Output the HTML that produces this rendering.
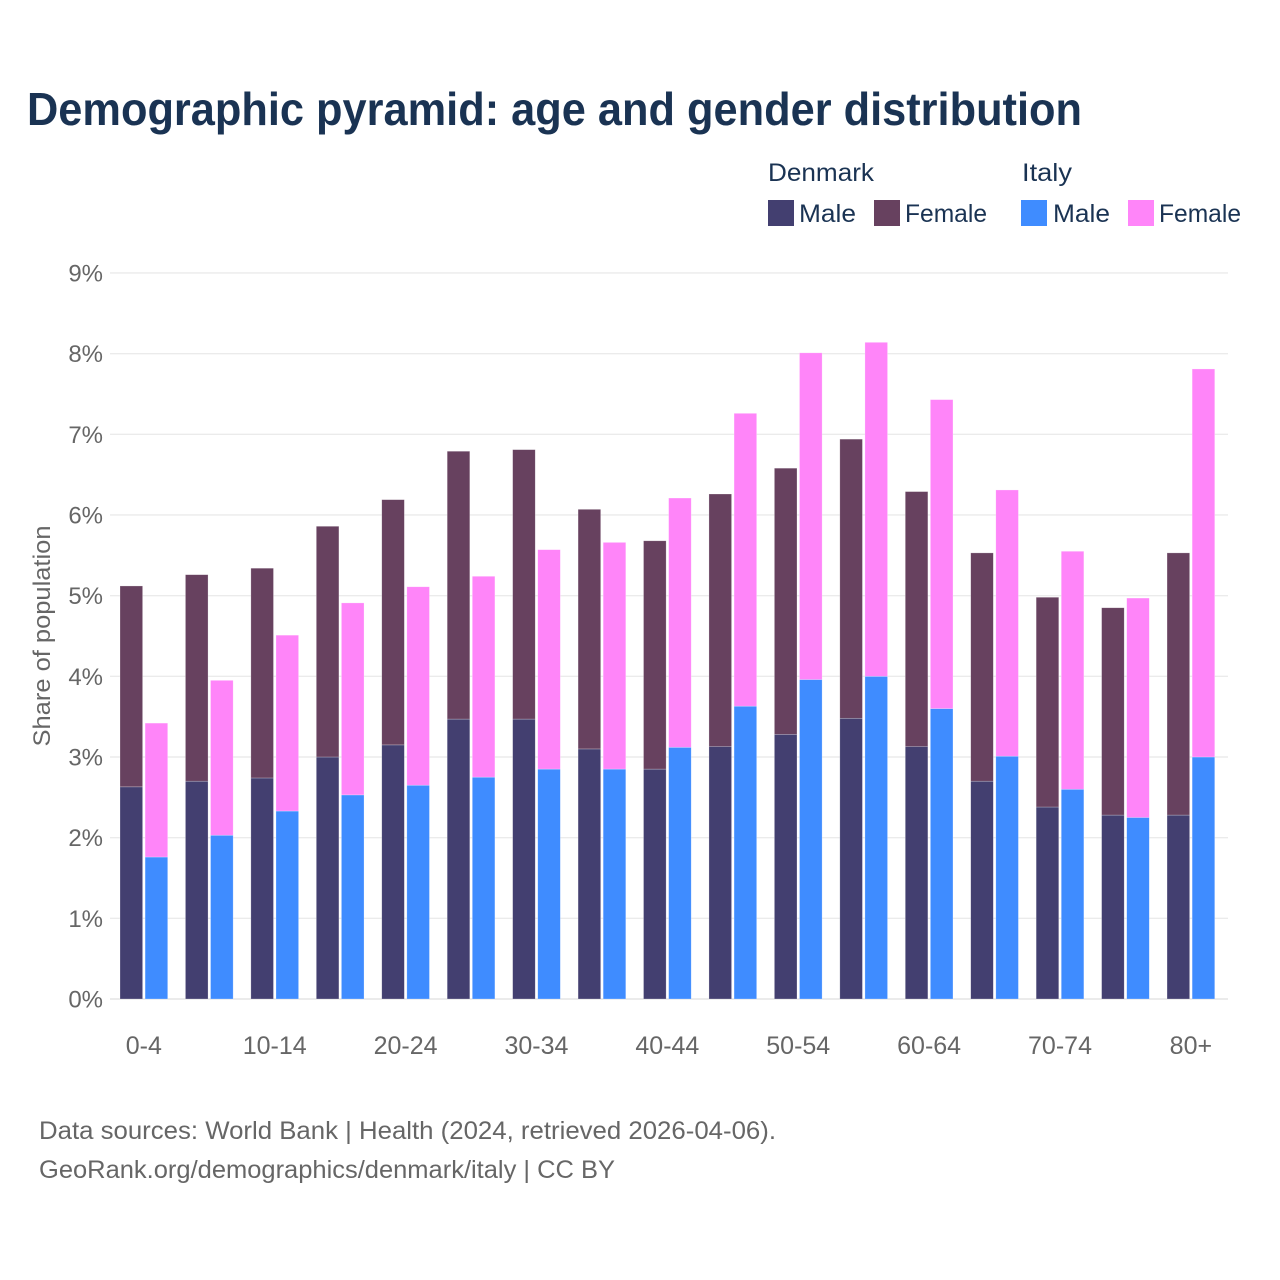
<!DOCTYPE html>
<html lang="en">
<head>
<meta charset="utf-8">
<title>Demographic pyramid</title>
<style>
html,body{margin:0;padding:0;background:#fff}
svg{display:block}
text{font-family:"Liberation Sans",Arial,sans-serif}
</style>
</head>
<body>
<svg id="chart" xmlns="http://www.w3.org/2000/svg" width="1280" height="1280" viewBox="0 0 1280 1280">
<rect x="0" y="0" width="1280" height="1280" fill="#fff"/>
<text x="27" y="125" font-size="46" font-weight="700" fill="#1a3353" textLength="1055" lengthAdjust="spacingAndGlyphs">Demographic pyramid: age and gender distribution</text>
<g font-size="25" fill="#1a3353">
<text x="768" y="181" textLength="106" lengthAdjust="spacingAndGlyphs">Denmark</text>
<text x="1022" y="181" textLength="50" lengthAdjust="spacingAndGlyphs">Italy</text>
<rect x="768" y="200" width="26" height="26" fill="#433f70"/>
<text x="799" y="222" textLength="57" lengthAdjust="spacingAndGlyphs">Male</text>
<rect x="874" y="200" width="26" height="26" fill="#67415f"/>
<text x="905" y="222" textLength="82" lengthAdjust="spacingAndGlyphs">Female</text>
<rect x="1021" y="200" width="26" height="26" fill="#3f8cff"/>
<text x="1053" y="222" textLength="57" lengthAdjust="spacingAndGlyphs">Male</text>
<rect x="1128" y="200" width="26" height="26" fill="#ff85f9"/>
<text x="1159" y="222" textLength="82" lengthAdjust="spacingAndGlyphs">Female</text>
</g>
<g id="grid"></g>
<g id="y-ticks"></g>
<g id="bars"></g>
<g id="x-ticks"></g>
<text transform="translate(50,636) rotate(-90)" text-anchor="middle" font-size="24" fill="#666" textLength="221" lengthAdjust="spacingAndGlyphs">Share of population</text>
<text x="39" y="1139" font-size="25" fill="#666" textLength="737" lengthAdjust="spacingAndGlyphs">Data sources: World Bank | Health (2024, retrieved 2026-04-06).</text>
<text x="39" y="1178" font-size="25" fill="#666" textLength="576" lengthAdjust="spacingAndGlyphs">GeoRank.org/demographics/denmark/italy | CC BY</text>
</svg>
<script>
const categories = ["0-4","5-9","10-14","15-19","20-24","25-29","30-34","35-39","40-44","45-49","50-54","55-59","60-64","65-69","70-74","75-79","80+"];
const denmarkMale = [2.63,2.70,2.74,3.00,3.15,3.47,3.47,3.10,2.85,3.13,3.28,3.48,3.13,2.70,2.38,2.28,2.28];
const denmarkFemale = [2.49,2.56,2.60,2.86,3.04,3.32,3.34,2.97,2.83,3.13,3.30,3.46,3.16,2.83,2.60,2.57,3.25];
const italyMale = [1.76,2.03,2.33,2.53,2.65,2.75,2.85,2.85,3.12,3.63,3.96,4.00,3.60,3.01,2.60,2.25,3.00];
const italyFemale = [1.66,1.92,2.18,2.38,2.46,2.49,2.72,2.81,3.09,3.63,4.05,4.14,3.83,3.30,2.95,2.72,4.81];
const yTickValues = [0,1,2,3,4,5,6,7,8,9];
const xTickLabels = ["0-4","10-14","20-24","30-34","40-44","50-54","60-64","70-74","80+"];

const NS = "http://www.w3.org/2000/svg";
const yScale = v => 999 - v * 80.67;
const groupX = i => 120 + i * 65.44;
const BAR_W = 22.6;
const BAR_GAP = 2.5;

function make(tag, parent, props) {
  const el = document.createElementNS(NS, tag);
  for (const k in props) el.setAttribute(k, props[k]);
  parent.appendChild(el);
  return el;
}

const gridG = document.getElementById("grid");
const yG = document.getElementById("y-ticks");
yTickValues.forEach(v => {
  const line = make("line", gridG, {x1:110, x2:1228, y1:yScale(v), y2:yScale(v), stroke:"#ebebeb", "stroke-width":v === 0 ? 2 : 1.4});
  
  
  const t = make("text", yG, {x:103, y:yScale(v) + 8.5, "text-anchor":"end", "font-size":24, fill:"#666"});
  t.textContent = v + "%";
  
  
});

const barsG = document.getElementById("bars");
function drawBar(x, base, val, color, name) {
  const top = yScale(base + val);
  const r = make("rect", barsG, {x:x, y:top, width:BAR_W, height:yScale(base) - top, fill:color, stroke:"rgba(255,255,255,0.4)", "stroke-width":0.6});
  
  
}
categories.forEach((c, i) => {
  const x1 = groupX(i);
  const x2 = x1 + BAR_W + BAR_GAP;
  drawBar(x1, 0, denmarkMale[i], "#433f70", "bar-denmark-male");
  drawBar(x1, denmarkMale[i], denmarkFemale[i], "#67415f", "bar-denmark-female");
  drawBar(x2, 0, italyMale[i], "#3f8cff", "bar-italy-male");
  drawBar(x2, italyMale[i], italyFemale[i], "#ff85f9", "bar-italy-female");
});

const xG = document.getElementById("x-ticks");
xTickLabels.forEach(label => {
  const i = categories.indexOf(label);
  const t = make("text", xG, {x:groupX(i) + BAR_W + BAR_GAP / 2, y:1054, "text-anchor":"middle", "font-size":25, fill:"#666"});
  t.textContent = label;
  
  
});
</script>
</body>
</html>
